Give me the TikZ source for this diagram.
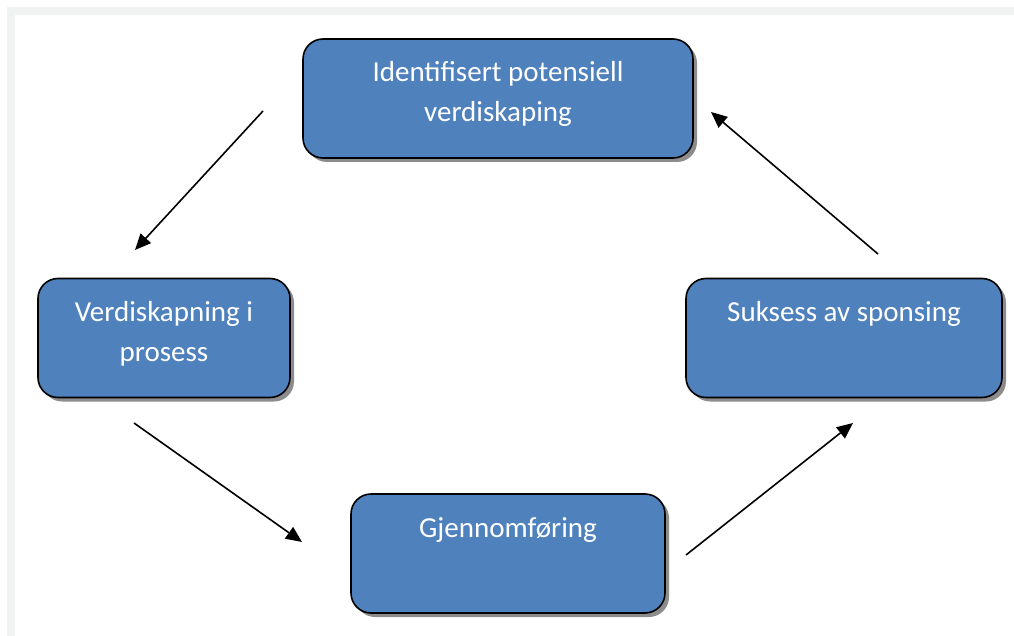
\documentclass[tikz,border=0pt]{standalone}
\usepackage{fontspec}
\setmainfont{Carlito}
\usepackage{tikz}
\usetikzlibrary{arrows.meta,shadows}

\definecolor{stepblue}{HTML}{4F81BD}
\definecolor{framegray}{HTML}{F1F2F2}

\newcommand{\stagetext}[2]{\parbox[c][119pt][t]{#1}{\centering\vspace*{15pt}\strut #2}}

\begin{document}
\begin{tikzpicture}[x=1pt,y=-1pt,semithick]
  \tikzset{stage/.style={draw=black,line width=1.6pt,fill=stepblue,text=white,
                         rounded corners=20pt,inner sep=0pt,
                         font=\fontsize{29}{40}\selectfont,
                         drop shadow={shadow xshift=4pt,shadow yshift=-4pt,
                                      fill=black!45,opacity=1}},
           flow/.style={-{Triangle[length=16pt,width=14pt]},line width=1.6pt}}

  \useasboundingbox (0,0) rectangle (1014,636);
  \fill[framegray] (7,7) rectangle (1014,636);
  \fill[white] (15,15) rectangle (1014,636);

  \node[stage,minimum width=390pt,minimum height=119pt] (ident) at (498,98.5)
       {\stagetext{380pt}{Identifisert potensiell\\verdiskaping}};
  \node[stage,minimum width=252pt,minimum height=119pt] (proc) at (164,338)
       {\stagetext{245pt}{Verdiskapning i\\prosess}};
  \node[stage,minimum width=314pt,minimum height=119pt] (gjen) at (508,553.5)
       {\stagetext{305pt}{Gjennomføring}};
  \node[stage,minimum width=316pt,minimum height=119pt] (suks) at (844,338)
       {\stagetext{305pt}{Suksess av sponsing}};

  \coordinate (A) at (263,111);
  \coordinate (B) at (135,250);
  \coordinate (C) at (134,423);
  \coordinate (D) at (302,542);
  \coordinate (E) at (686,555);
  \coordinate (F) at (853,423);
  \coordinate (G) at (878,254);
  \coordinate (H) at (711,112);

  \path[flow] (A) edge (B)
              (C) edge (D)
              (E) edge (F)
              (G) edge (H);

\end{tikzpicture}
\end{document}
